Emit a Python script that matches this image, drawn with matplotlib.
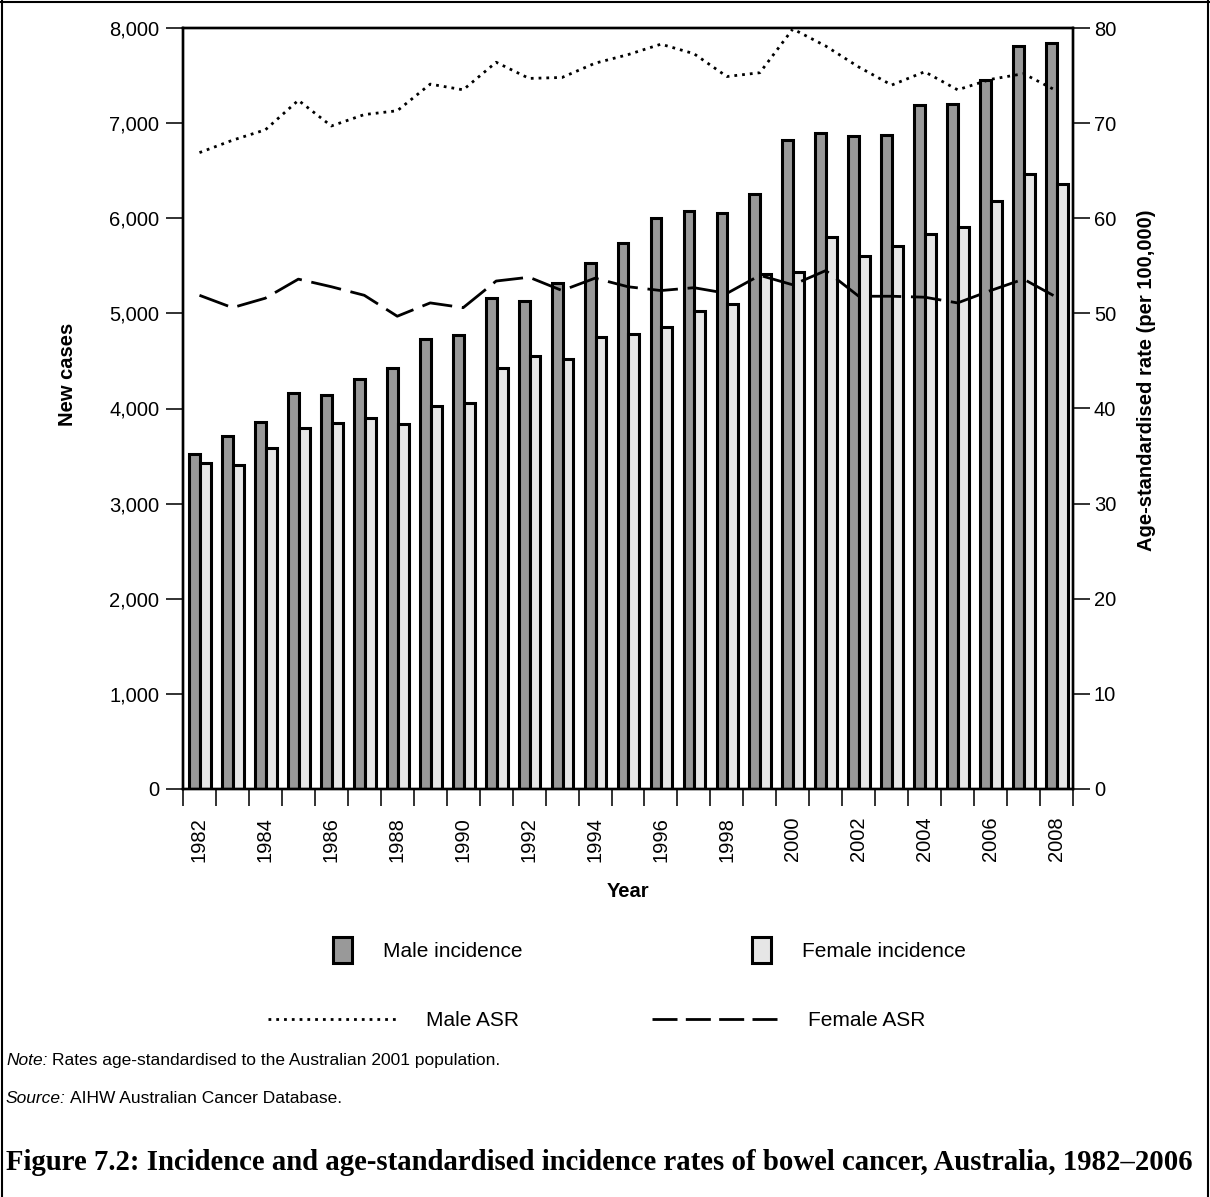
import numpy as np
import matplotlib
matplotlib.use("Agg")
import matplotlib.pyplot as plt
from matplotlib.patches import Patch
from matplotlib.lines import Line2D

plt.rcParams["font.family"] = ["Liberation Sans", "DejaVu Sans"]

years = list(range(1982, 2009))
male_cases = [3520, 3710, 3860, 4160, 4140, 4310, 4430, 4730, 4770, 5160,
              5130, 5320, 5530, 5740, 6000, 6080, 6050, 6250, 6820, 6900,
              6860, 6870, 7190, 7200, 7450, 7810, 7840]
female_cases = [3430, 3410, 3590, 3800, 3850, 3900, 3840, 4030, 4060, 4430,
                4550, 4520, 4750, 4780, 4860, 5030, 5100, 5410, 5440, 5800,
                5600, 5710, 5830, 5910, 6180, 6470, 6360]
male_asr = [66.9, 68.2, 69.3, 72.4, 69.7, 70.9, 71.3, 74.1, 73.5, 76.4,
            74.7, 74.8, 76.3, 77.2, 78.3, 77.3, 74.9, 75.3, 79.9, 78.1,
            75.9, 74.0, 75.4, 73.5, 74.6, 75.2, 73.4]
female_asr = [51.9, 50.6, 51.6, 53.6, 52.8, 51.9, 49.7, 51.1, 50.6, 53.4,
              53.8, 52.4, 53.7, 52.8, 52.4, 52.7, 52.1, 54.0, 53.0, 54.5,
              51.8, 51.8, 51.7, 51.1, 52.4, 53.6, 51.7]

W, H = 1210, 1197
fig = plt.figure(figsize=(W / 100, H / 100), dpi=100)
ax = fig.add_axes([183 / W, 1 - 789 / H, 890 / W, 761 / H])
ax2 = ax.twinx()

x = np.arange(len(years))
bw = 0.33
ax.bar(x - 0.15, male_cases, bw, color="#999999", edgecolor="black", linewidth=2.2, zorder=2)
ax.bar(x + 0.18, female_cases, bw, color="#e6e6e6", edgecolor="black", linewidth=2.2, zorder=2)

ax2.plot(x, male_asr, color="black", linewidth=2.0, linestyle=(0, (1, 1.8)))
ax2.plot(x, female_asr, color="black", linewidth=2.0, linestyle=(0, (11, 3.5)))

ax.set_xlim(-0.5, len(years) - 0.5)
ax.set_ylim(0, 8000)
ax2.set_ylim(0, 80)
ax.set_yticks(np.arange(0, 8001, 1000))
ax.set_yticklabels([f"{v:,}" for v in range(0, 8001, 1000)])
ax2.set_yticks(np.arange(0, 81, 10))

# tick marks at category boundaries, labels every other year at the centre
ax.set_xticks(np.arange(-0.5, len(years), 1))
ax.set_xticklabels([])
ax.set_xticks(x[::2], [str(y) for y in years[::2]], minor=True)
ax.tick_params(axis="x", which="major", length=12, width=1.3, direction="out", color="#222222")
ax.tick_params(axis="x", which="minor", length=0, pad=20, labelsize=14.5, labelrotation=90)
ax.tick_params(axis="y", length=12, width=1.3, pad=5, labelsize=14.5, color="#222222")
ax2.tick_params(axis="y", length=12, width=1.3, pad=3, labelsize=14.5, color="#222222")

for a in (ax, ax2):
    for s in a.spines.values():
        s.set_linewidth(1.7)

ax.set_xlabel("Year", fontsize=14.5, fontweight="bold")
ax.xaxis.set_label_coords(0.5, -0.122)
ax.set_ylabel("New cases", fontsize=14.5, fontweight="bold")
ax.yaxis.set_label_coords(-0.119, 0.545)
ax2.set_ylabel("Age-standardised rate (per 100,000)", fontsize=14.5, fontweight="bold")
ax2.yaxis.set_label_coords(1.072, 0.537)

# legend, one entry at a time to match the spread-out layout
def legend_item(handle, label, x_px, y_px, **kw):
    fig.legend(handles=[handle], labels=[label], loc="center left",
               bbox_to_anchor=(x_px / W, 1 - y_px / H), frameon=False,
               borderpad=0, borderaxespad=0, fontsize=15, **kw)

male_patch = Patch(facecolor="#999999", edgecolor="black", linewidth=2.2)
female_patch = Patch(facecolor="#e6e6e6", edgecolor="black", linewidth=2.2)
legend_item(male_patch, "Male incidence", 333, 950, handlelength=0.9, handleheight=1.5, handletextpad=1.5)
legend_item(female_patch, "Female incidence", 752, 950, handlelength=0.9, handleheight=1.5, handletextpad=1.5)
male_line = Line2D([], [], color="black", linewidth=2.0, linestyle=(0, (1, 1.8)))
female_line = Line2D([], [], color="black", linewidth=2.0, linestyle=(0, (9, 3)))
legend_item(male_line, "Male ASR", 268, 1021, handlelength=6.3, handletextpad=1.3)
legend_item(female_line, "Female ASR", 652, 1021, handlelength=6.0, handletextpad=1.5)

# notes and caption
renderer = fig.canvas.get_renderer()
for lead, rest, y_px in [("Note:", "Rates age-standardised to the Australian 2001 population.", 1065),
                         ("Source:", "AIHW Australian Cancer Database.", 1103)]:
    t = fig.text(6 / W, 1 - y_px / H, lead, fontsize=12.5, va="baseline", style="italic")
    x1 = t.get_window_extent(renderer).x1
    fig.text((x1 + 4) / W, 1 - y_px / H, rest, fontsize=12.5, va="baseline")

cap = fig.text(6 / W, 1 - 1163 / H,
               "Figure 7.2: Incidence and age-standardised incidence rates of bowel cancer, Australia, 1982\u20132006",
               fontsize=17, fontweight="bold", family="Liberation Serif", va="center")
cw = cap.get_window_extent(renderer).width
cap.set_fontsize(17 * 1186 / cw)

# outer frame (left, top, right)
for xs, ys in [([1.5 / W, 1.5 / W], [0, 1]), ([0, 1], [1 - 1.5 / H, 1 - 1.5 / H]),
               ([1 - 2 / W, 1 - 2 / W], [0, 1])]:
    fig.add_artist(Line2D(xs, ys, color="black", linewidth=1.5, transform=fig.transFigure))

fig.savefig("out.png", dpi=100)
